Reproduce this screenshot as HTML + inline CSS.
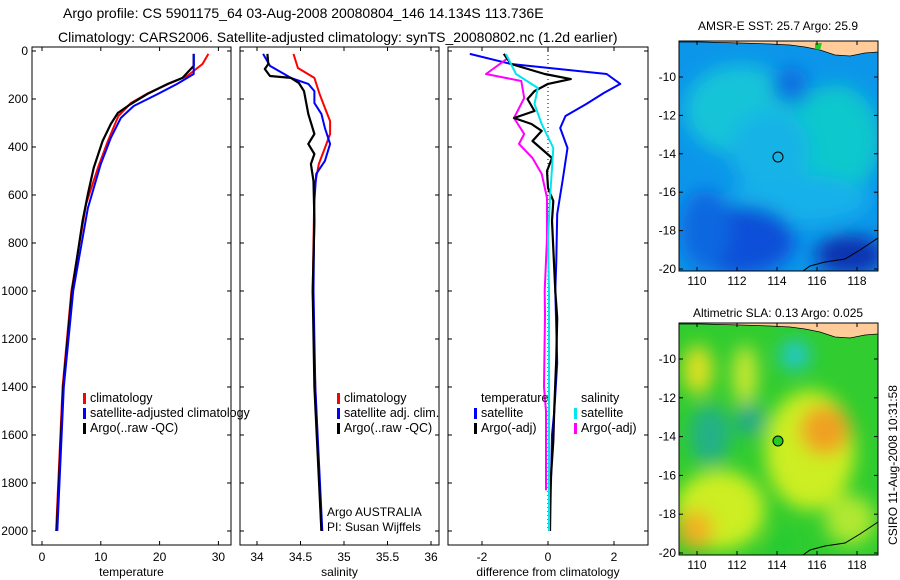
<!DOCTYPE html>
<html><head><meta charset="utf-8">
<style>
body{margin:0;background:#fff;}
svg{display:block;font-family:"Liberation Sans","DejaVu Sans",sans-serif;}
text{fill:#000;}
</style></head>
<body>
<svg id="fig" width="900" height="580" viewBox="0 0 900 580" xmlns="http://www.w3.org/2000/svg">
<defs>
<filter id="blur1" x="-50%" y="-50%" width="200%" height="200%"><feGaussianBlur stdDeviation="9"/></filter>
<clipPath id="clipTop"><rect x="679" y="41" width="199" height="230"/></clipPath>
<clipPath id="clipBot"><rect x="679" y="323" width="199" height="232"/></clipPath>
</defs>
<text x="63" y="18" font-size="14">Argo profile: CS 5901175_64 03-Aug-2008 20080804_146 14.134S 113.736E</text>
<text x="58" y="42" font-size="14">Climatology: CARS2006. Satellite-adjusted climatology: synTS_20080802.nc (1.2d earlier)</text>

<g clip-path="url(#clipTop)">
<rect x="679" y="41" width="199" height="230" fill="#0c96ea"/>
<g filter="url(#blur1)">
<ellipse cx="740" cy="110" rx="55" ry="45" fill="#14c4d8"/>
<ellipse cx="835" cy="140" rx="45" ry="55" fill="#10c8cc"/>
<ellipse cx="770" cy="150" rx="40" ry="40" fill="#12b4e6"/>
<ellipse cx="800" cy="200" rx="70" ry="25" fill="#14b0ea"/>
<ellipse cx="790" cy="85" rx="18" ry="18" fill="#0a6fe0"/>
<ellipse cx="740" cy="240" rx="55" ry="35" fill="#0a50d8"/>
<ellipse cx="850" cy="255" rx="35" ry="20" fill="#0a30b0"/>
<ellipse cx="705" cy="230" rx="25" ry="40" fill="#0a68e0"/>
</g>
<path d="M679 41 L878 41 L878 52 L865 53 L850 56 L835 55 L820 50 L805 47 L790 45 L770 44 L740 43 L700 42 L679 42 Z" fill="#ffcc99" stroke="#000" stroke-width="0.8"/>
<path d="M815 43 L822 43 L820 50 L815 49 Z" fill="#22cc22"/>
<path d="M803 271 L810 266 L825 262 L845 259 L860 250 L872 242 L878 238" fill="none" stroke="#000" stroke-width="1"/>
<circle cx="778" cy="157" r="5" fill="none" stroke="#000" stroke-width="1"/>
</g>
<rect x="679" y="41" width="199" height="230" fill="none" stroke="#000"/>
<text x="778" y="30" font-size="12" text-anchor="middle">AMSR-E SST: 25.7 Argo: 25.9</text>

<g clip-path="url(#clipBot)">
<rect x="679" y="323" width="199" height="232" fill="#30cc30"/>
<g filter="url(#blur1)">
<ellipse cx="810" cy="450" rx="45" ry="60" fill="#ccee22"/>
<ellipse cx="825" cy="430" rx="25" ry="25" fill="#f0a020"/>
<ellipse cx="720" cy="510" rx="45" ry="40" fill="#ccee22"/>
<ellipse cx="695" cy="530" rx="18" ry="20" fill="#f0b020"/>
<ellipse cx="698" cy="370" rx="15" ry="25" fill="#e0e020"/>
<ellipse cx="745" cy="375" rx="12" ry="30" fill="#d0e830"/>
<ellipse cx="795" cy="355" rx="15" ry="15" fill="#20c8d0"/>
<ellipse cx="710" cy="435" rx="20" ry="30" fill="#20b088"/>
<ellipse cx="750" cy="420" rx="14" ry="16" fill="#20a890"/>
<ellipse cx="850" cy="520" rx="25" ry="25" fill="#b0e830"/>
<ellipse cx="780" cy="545" rx="14" ry="12" fill="#20cc30"/>
</g>
<path d="M679 323 L878 323 L878 334 L865 335 L850 338 L835 337 L820 332 L805 329 L790 327 L770 326 L740 325 L700 324 L679 324 Z" fill="#ffcc99" stroke="#000" stroke-width="0.8"/>
<path d="M803 555 L810 550 L825 546 L845 543 L860 534 L872 526 L878 522" fill="none" stroke="#000" stroke-width="1"/>
<circle cx="778" cy="441" r="5" fill="#22cc22" stroke="#000" stroke-width="1"/>
</g>
<rect x="679" y="323" width="199" height="232" fill="none" stroke="#000"/>
<text x="778" y="317" font-size="12" text-anchor="middle">Altimetric SLA: 0.13 Argo: 0.025</text>
<text transform="translate(897,465) rotate(-90)" font-size="12" text-anchor="middle">CSIRO 11-Aug-2008 10:31:58</text>
<g id="maps-ticks"></g>
<g id="plots"></g>
</svg>
<script>
const depthTicks=[0,200,400,600,800,1000,1200,1400,1600,1800,2000];
const tempTicks=[0,10,20,30];
const salTicks=[34,34.5,35,35.5,36];
const diffTicks=[-2,0,2];
const lonTicks=[110,112,114,116,118];
const latTicks=[-10,-12,-14,-16,-18,-20];

const tArgoDepth=[12,62,112,137,179,221,258,304,375,487,596,708,1000,1400,2000];
const tArgo=[25.8,25.8,23.9,21.4,17.9,15.1,12.9,11.7,10.3,8.8,7.8,6.9,5.1,3.6,2.5];
const tClimDepth=[12,54,104,133,175,217,271,375,487,637,1000,1400,2000];
const tClim=[28.3,27.3,24.7,21.9,18.1,15.1,13.0,11.2,9.5,7.5,5.0,3.5,2.4];
const tSatDepth=[12,96,137,179,229,279,362,471,654,1000,1400,2000];
const tSat=[25.8,25.8,23.0,19.7,15.6,13.4,11.7,10.0,7.8,5.3,3.7,2.6];

const sArgoDepth=[12,54,75,104,112,133,167,262,346,387,429,471,542,708,1000,1400,2000];
const sArgo=[34.12,34.13,34.09,34.15,34.39,34.48,34.54,34.59,34.66,34.59,34.66,34.62,34.65,34.66,34.64,34.66,34.74];
const sClimDepth=[12,71,112,179,237,292,346,404,471,571,1000,1400,2000];
const sClim=[34.42,34.47,34.66,34.72,34.78,34.84,34.84,34.78,34.71,34.66,34.64,34.67,34.74];
const sSatDepth=[12,62,112,137,167,217,262,321,387,458,512,625,1000,1400,2000];
const sSat=[34.07,34.15,34.39,34.59,34.66,34.66,34.74,34.78,34.84,34.78,34.68,34.66,34.65,34.67,34.75];

const dTSatDepth=[12,54,96,137,175,221,271,321,404,542,679,875,1000,1300,1500,1600,2000];
const dTSat=[-2.37,-1.12,1.78,2.19,1.69,1.16,0.53,0.37,0.59,0.44,0.28,0.25,0.22,0.28,0.19,0.12,0.06];
const dTArgoDepth=[12,54,96,117,137,167,200,250,279,304,333,375,446,500,571,625,708,1000,1112,1279,1487,1625,1833,2000];
const dTArgo=[-1.34,-1.12,-0.1,0.69,0,-0.41,-0.62,-0.41,-1.03,-0.5,-0.19,-0.47,0.12,-0.03,0,0.16,0.12,0.22,0.28,0.25,0.19,0.16,0.06,0.06];
const dSSatDepth=[12,54,96,154,221,304,404,487,612,780,1000,1400,2000];
const dSSat=[-1.28,-1.12,-0.97,-0.31,-0.41,-0.19,0.16,0.12,0.06,0,0.03,0.03,0.03];
const dSArgoDepth=[33,96,125,196,279,346,387,446,512,612,780,1000,1100,1400,1500,1830];
const dSArgo=[-1.25,-1.88,-0.81,-0.72,-1.03,-0.72,-0.88,-0.47,-0.19,-0.03,-0.03,-0.1,-0.09,-0.12,-0.06,-0.06];

const NS='http://www.w3.org/2000/svg';
const plots=document.getElementById('plots');
const yTop=47,yBot=545;
function yD(d){return 51+0.24*d;}
function mk(tag,attrs,parent){const e=document.createElementNS(NS,tag);for(const k in attrs)e.setAttribute(k,attrs[k]);(parent||plots).appendChild(e);return e;}
function txt(x,y,s,anchor,size,parent){const t=mk('text',{x:x,y:y,'font-size':size||12,'text-anchor':anchor||'start'},parent);t.textContent=s;return t;}

const panels=[
 {name:'temperature-panel',x0:32,x1:231,sx:v=>42+5.88*v,ticks:tempTicks,label:'temperature',yLabels:true},
 {name:'salinity-panel',x0:240,x1:439,sx:v=>257+87*(v-34),ticks:salTicks,label:'salinity'},
 {name:'difference-panel',x0:448,x1:648,sx:v=>548+33*v,ticks:diffTicks,label:'difference from climatology'}
];
panels.forEach(p=>{
  const g=mk('g',{});
  
  
  const fr=mk('rect',{x:p.x0,y:yTop,width:p.x1-p.x0,height:yBot-yTop,fill:'none',stroke:'#000','stroke-width':1},g);
  
  
  depthTicks.forEach(d=>{
    const y=yD(d);
    mk('line',{x1:p.x0,y1:y,x2:p.x0+4,y2:y,stroke:'#000'},g);
    mk('line',{x1:p.x1,y1:y,x2:p.x1-4,y2:y,stroke:'#000'},g);
    if(p.yLabels){const t=txt(28,y+4,String(d),'end',12,g);
      
      }
  });
  p.ticks.forEach(v=>{
    const x=p.sx(v);
    mk('line',{x1:x,y1:yBot,x2:x,y2:yBot-4,stroke:'#000'},g);
    mk('line',{x1:x,y1:yTop,x2:x,y2:yTop+4,stroke:'#000'},g);
    const t=txt(x,561,String(v),'middle',12,g);
    
    
  });
  const xl=txt((p.x0+p.x1)/2,576,p.label,'middle',12,g);
  
  
});
const zl=mk('line',{x1:panels[2].sx(0),y1:yD(0),x2:panels[2].sx(0),y2:yD(2000),stroke:'#000','stroke-dasharray':'1,3'});



function series(p,depths,vals,color,name,w){
  let d='';
  depths.forEach((dp,i)=>{d+=(i?'L':'M')+p.sx(vals[i]).toFixed(1)+' '+yD(dp).toFixed(1);});
  const path=mk('path',{d:d,fill:'none',stroke:color,'stroke-width':w||2,'stroke-linejoin':'round'});
  
  
}
series(panels[0],tClimDepth,tClim,'#ff0000','temperature-climatology-line');
series(panels[0],tArgoDepth,tArgo,'#000000','temperature-argo-line',2.2);
series(panels[0],tSatDepth,tSat,'#0000ff','temperature-satellite-line');
series(panels[1],sClimDepth,sClim,'#ff0000','salinity-climatology-line');
series(panels[1],sSatDepth,sSat,'#0000ff','salinity-satellite-line');
series(panels[1],sArgoDepth,sArgo,'#000000','salinity-argo-line',2.2);
series(panels[2],dTSatDepth,dTSat,'#0000ff','temp-satellite-diff-line');
series(panels[2],dSArgoDepth,dSArgo,'#ff00ff','sal-argo-diff-line');
series(panels[2],dTArgoDepth,dTArgo,'#000000','temp-argo-diff-line',2.2);
series(panels[2],dSSatDepth,dSSat,'#00e5ee','sal-satellite-diff-line');

function legend(x,y,color,label,name){
  if(color){const b=mk('rect',{x:x,y:y-9,width:3,height:11,fill:color});
    
    }
  const t=txt(x+7,y,label,'start',12.5);
  
  
}
legend(83,402,'#ff0000','climatology','legend-climatology');
legend(83,417,'#0000ff','satellite-adjusted climatology','legend-satellite-adjusted');
legend(83,432,'#000000','Argo(..raw -QC)','legend-argo');
legend(337,402,'#ff0000','climatology','legend-sal-climatology');
legend(337,417,'#0000ff','satellite adj. clim.','legend-sal-satellite');
legend(337,432,'#000000','Argo(..raw -QC)','legend-sal-argo');
legend(474,402,null,'temperature','legend-temperature-header');
legend(474,417,'#0000ff','satellite','legend-temp-satellite');
legend(474,432,'#000000','Argo(-adj)','legend-temp-argo');
legend(574,402,null,'salinity','legend-salinity-header');
legend(574,417,'#00e5ee','satellite','legend-sal-satellite-diff');
legend(574,432,'#ff00ff','Argo(-adj)','legend-sal-argo-diff');
const a1=txt(327,516,'Argo AUSTRALIA','start',12);


const a2=txt(327,531,'PI: Susan Wijffels','start',12);



const mt=document.getElementById('maps-ticks');
[[41,271],[323,555]].forEach(([t0,t1])=>{
  const lonX=v=>697+(v-110)*20;
  const latY=v=>(t0+36)+(-10-v)*((t1-t0-38)/10);
  lonTicks.forEach(v=>{
    const x=lonX(v);
    mk('line',{x1:x,y1:t1,x2:x,y2:t1-4,stroke:'#000'},mt);
    mk('line',{x1:x,y1:t0,x2:x,y2:t0+4,stroke:'#000'},mt);
    const t=txt(x,t1+14,String(v),'middle',12,mt);
    
    
  });
  latTicks.forEach(v=>{
    const y=latY(v);
    mk('line',{x1:878,y1:y,x2:874,y2:y,stroke:'#000'},mt);
    mk('line',{x1:679,y1:y,x2:683,y2:y,stroke:'#000'},mt);
    const t=txt(676,y+4,String(v),'end',12,mt);
    
    
  });
});
</script>
</body></html>
